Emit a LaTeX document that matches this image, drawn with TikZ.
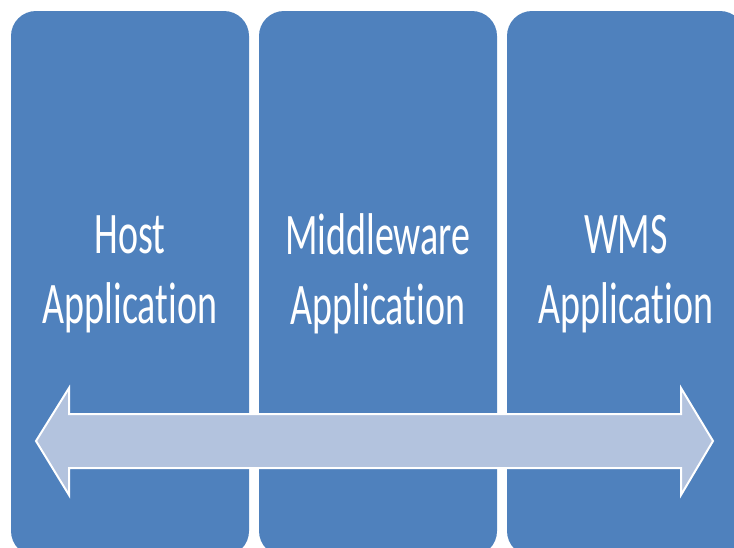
\documentclass[tikz,border=0pt]{standalone}
\usepackage{fontspec}
\setmainfont{Carlito}[Ligatures=NoCommon]
\definecolor{tileblue}{HTML}{4F81BD}
\definecolor{arrowblue}{HTML}{B3C3DE}
\tikzset{
  tile/.style={fill=tileblue,draw=none,rounded corners=25pt,minimum width=238pt,minimum height=545pt},
  tiletext/.style={text=white,align=center,font=\fontsize{38}{45}\selectfont,yscale=1.55,transform shape}
}

\begin{document}
\begin{tikzpicture}[x=1pt,y=-1pt]
      \useasboundingbox (0,0) rectangle (734,547);
      \clip (0,0) rectangle (734,547);
      \node[tile] (host) at (130,283.5) {};
      \node[tile] (middle) at (378,283.5) {};
      \node[tile] (wms) at (626,283.5) {};
      \node[tiletext] (hostlabel) at (130,274) {Host\\Application};
      \node[tiletext] (middlelabel) at (378,274) {Middleware\\Application};
      \node[tiletext] (wmslabel) at (626,274) {WMS\\Application};
      \draw[white,line width=2pt,fill=arrowblue,line join=miter]
        (36,441) -- (69,388) -- (69,414) -- (681,414) -- (681,388) -- (713,441)
        -- (681,495) -- (681,468) -- (69,468) -- (69,495) -- cycle;
    \end{tikzpicture}
\end{document}
